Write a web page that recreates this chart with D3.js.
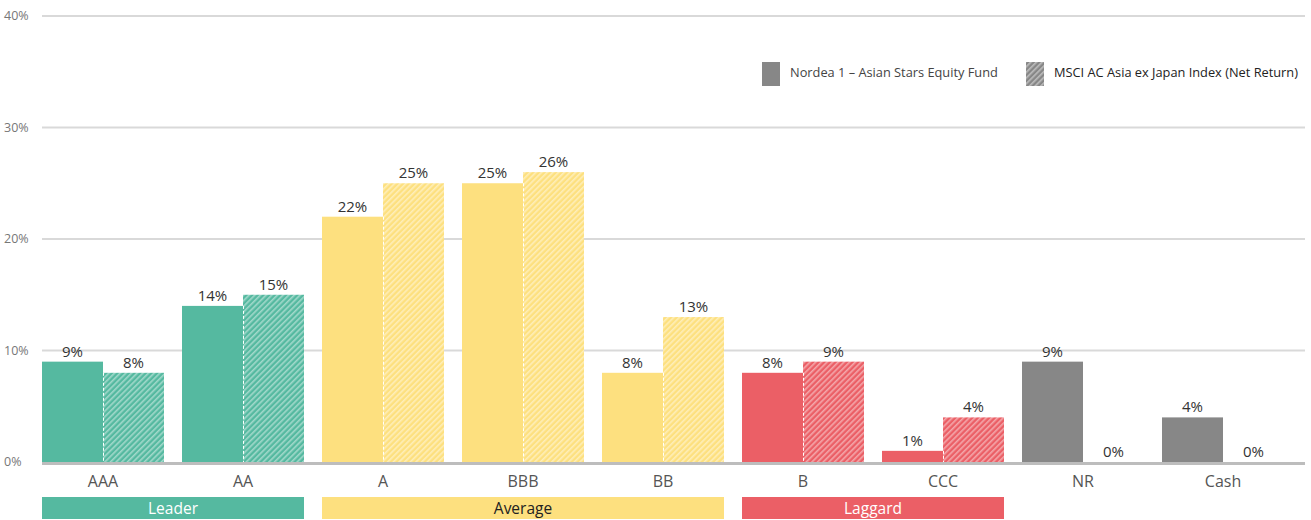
<!DOCTYPE html>
<html>
<head>
<meta charset="utf-8">
<script src="https://cdn.jsdelivr.net/npm/d3@7"></script>
<style>
  body { margin: 0; background: #fff; }
  svg { font-family: "Open Sans", "Noto Sans", sans-serif; }
</style>
</head>
<body>
<div id="chart"></div>
<script>
// ---- Data ----------------------------------------------------------------
var categories = ['AAA', 'AA', 'A', 'BBB', 'BB', 'B', 'CCC', 'NR', 'Cash'];
var fundValues = [9, 14, 22, 25, 8, 8, 1, 9, 4];
var indexValues = [8, 15, 25, 26, 13, 9, 4, 0, 0];
var categoryGroup = ['Leader', 'Leader', 'Average', 'Average', 'Average', 'Laggard', 'Laggard', 'None', 'None'];
var groups = ['Leader', 'Average', 'Laggard'];
var yTicks = [0, 10, 20, 30, 40];
var seriesNames = ['Nordea 1 \u2013 Asian Stars Equity Fund', 'MSCI AC Asia ex Japan Index (Net Return)'];

(function() {
  var groupColor = { Leader: '#55b9a0', Average: '#fde07f', Laggard: '#eb5f66', None: '#878787' };
  var groupText = { Leader: '#ffffff', Average: '#222222', Laggard: '#ffffff' };

  // ---- Layout ------------------------------------------------------------
  var W = 1311, H = 520;
  var mLeft = 42, mTop = 16, mBottom = 462, gridEnd = 1305, step = 140, gap = 18;

  var svg = d3.select('#chart').append('svg')
    .attr('width', W).attr('height', H);

  var defs = svg.append('defs');
  Object.keys(groupColor).forEach(function(k) {
    var p = defs.append('pattern')
      .attr('id', 'hatch-' + k)
      .attr('patternUnits', 'userSpaceOnUse')
      .attr('width', 4).attr('height', 4)
      .attr('patternTransform', 'rotate(-45)');
    p.append('rect').attr('width', 4).attr('height', 4).attr('fill', groupColor[k]);
    p.append('rect').attr('width', 4).attr('height', 1.6).attr('fill', '#ffffff').attr('opacity', 0.45);
  });

  var x = d3.scaleBand().domain(categories)
    .range([mLeft, mLeft + step * categories.length - gap])
    .paddingInner(gap / step).paddingOuter(0);
  var half = x.bandwidth() / 2;
  var y = d3.scaleLinear().domain([0, 40]).range([mBottom, mTop]);

  // gridlines
  svg.append('g').selectAll('line').data(yTicks.slice(1)).join('line')
    .attr('x1', mLeft).attr('x2', gridEnd)
    .attr('y1', function(d) { return y(d); }).attr('y2', function(d) { return y(d); })
    .attr('stroke', '#d9d9d9').attr('stroke-width', 2);

  svg.append('g').selectAll('text').data(yTicks).join('text')
    .attr('x', 4).attr('y', function(d) { return y(d) + 4; })
    .attr('font-size', 12.5).attr('fill', '#777')
    .text(function(d) { return d + '%'; });

  // bars
  var cats = categories.map(function(c, i) {
    return { cat: c, fund: fundValues[i], index: indexValues[i], group: categoryGroup[i] };
  });

  var g = svg.append('g');
  g.selectAll('rect.fund').data(cats).join('rect')
    .attr('class', 'fund')
    .attr('x', function(d) { return x(d.cat); })
    .attr('width', half)
    .attr('y', function(d) { return y(d.fund); })
    .attr('height', function(d) { return mBottom - y(d.fund); })
    .attr('fill', function(d) { return groupColor[d.group]; });

  var hatched = cats.filter(function(d) { return d.index > 0; });
  g.selectAll('rect.index').data(hatched).join('rect')
    .attr('class', 'index')
    .attr('x', function(d) { return x(d.cat) + half; })
    .attr('width', half)
    .attr('y', function(d) { return y(d.index); })
    .attr('height', function(d) { return mBottom - y(d.index); })
    .attr('fill', function(d) { return 'url(#hatch-' + d.group + ')'; });

  // dashed white divider on left edge of hatched bars
  g.selectAll('line.div').data(hatched).join('line')
    .attr('class', 'div')
    .attr('x1', function(d) { return x(d.cat) + half + 0.5; })
    .attr('x2', function(d) { return x(d.cat) + half + 0.5; })
    .attr('y1', function(d) { return y(Math.min(d.index, d.fund)); })
    .attr('y2', mBottom)
    .attr('stroke', '#fff').attr('stroke-width', 1).attr('stroke-dasharray', '3,2');

  // value labels
  g.selectAll('text.fv').data(cats).join('text')
    .attr('class', 'fv')
    .attr('x', function(d) { return x(d.cat) + half / 2; })
    .attr('y', function(d) { return y(d.fund) - 5; })
    .attr('text-anchor', 'middle').attr('font-size', 15).attr('fill', '#333')
    .text(function(d) { return d.fund + '%'; });

  g.selectAll('text.iv').data(cats).join('text')
    .attr('class', 'iv')
    .attr('x', function(d) { return x(d.cat) + half * 1.5; })
    .attr('y', function(d) { return y(d.index) - 5; })
    .attr('text-anchor', 'middle').attr('font-size', 15).attr('fill', '#333')
    .text(function(d) { return d.index + '%'; });

  // baseline
  svg.append('line')
    .attr('x1', mLeft).attr('x2', gridEnd)
    .attr('y1', mBottom + 1.5).attr('y2', mBottom + 1.5)
    .attr('stroke', '#bdbdbd').attr('stroke-width', 3);

  // category labels
  svg.append('g').selectAll('text').data(categories).join('text')
    .attr('x', function(d) { return x(d) + x.bandwidth() / 2; })
    .attr('y', 487)
    .attr('text-anchor', 'middle').attr('font-size', 16).attr('fill', '#555')
    .text(function(d) { return d; });

  // group bands
  var groupSpans = groups.map(function(gname) {
    var members = categories.filter(function(c, i) { return categoryGroup[i] === gname; });
    return { name: gname, x0: x(members[0]), x1: x(members[members.length - 1]) + x.bandwidth() };
  });
  var gb = svg.append('g').selectAll('g').data(groupSpans).join('g');
  gb.append('rect')
    .attr('x', function(d) { return d.x0; })
    .attr('width', function(d) { return d.x1 - d.x0; })
    .attr('y', 497).attr('height', 22)
    .attr('fill', function(d) { return groupColor[d.name]; });
  gb.append('text')
    .attr('x', function(d) { return (d.x0 + d.x1) / 2; })
    .attr('y', 514)
    .attr('text-anchor', 'middle').attr('font-size', 15.5)
    .attr('fill', function(d) { return groupText[d.name]; })
    .text(function(d) { return d.name; });

  // legend
  var legend = svg.append('g');
  var legendX = [762, 1026];
  legend.selectAll('rect').data(seriesNames).join('rect')
    .attr('x', function(d, i) { return legendX[i]; })
    .attr('y', 62).attr('width', 18).attr('height', 24)
    .attr('fill', function(d, i) { return i === 0 ? groupColor.None : 'url(#hatch-None)'; });
  legend.selectAll('text').data(seriesNames).join('text')
    .attr('x', function(d, i) { return legendX[i] + 28; })
    .attr('y', 77)
    .attr('font-size', 12.8).attr('fill', function(d, i) { return i === 0 ? '#444' : '#222'; })
    .text(function(d) { return d; });
})();
</script>
</body>
</html>
